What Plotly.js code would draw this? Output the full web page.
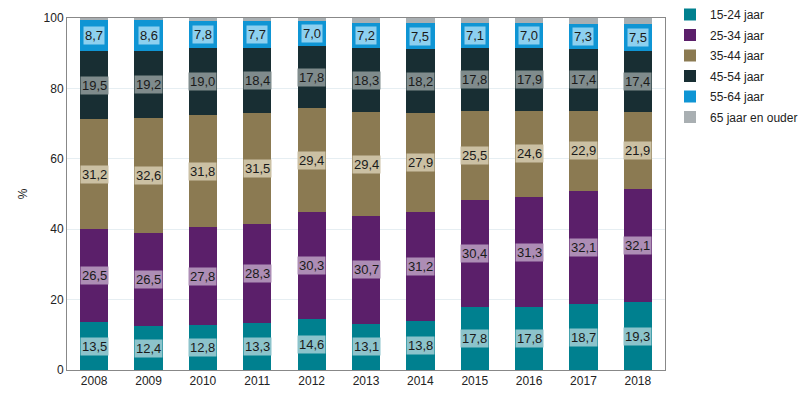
<!DOCTYPE html>
<html><head><meta charset="utf-8">
<script src="https://cdn.plot.ly/plotly-3.0.1.min.js"></script>
<style>body{margin:0;background:#fff}#c{width:800px;height:400px}</style>
</head><body><div id="c"></div>
<script>
const years = ['2008','2009','2010','2011','2012','2013','2014','2015','2016','2017','2018'];
const seriesNames = ['15-24 jaar','25-34 jaar','35-44 jaar','45-54 jaar','55-64 jaar','65 jaar en ouder'];
const s1524 = [13.5,12.4,12.8,13.3,14.6,13.1,13.8,17.8,17.8,18.7,19.3];
const s2534 = [26.5,26.5,27.8,28.3,30.3,30.7,31.2,30.4,31.3,32.1,32.1];
const s3544 = [31.2,32.6,31.8,31.5,29.4,29.4,27.9,25.5,24.6,22.9,21.9];
const s4554 = [19.5,19.2,19.0,18.4,17.8,18.3,18.2,17.8,17.9,17.4,17.4];
const s5564 = [8.7,8.6,7.8,7.7,7.0,7.2,7.5,7.1,7.0,7.3,7.5];
const s65 = [0.6,0.7,0.8,0.8,0.9,1.3,1.4,1.4,1.4,1.6,1.8];

const series = [s1524,s2534,s3544,s4554,s5564,s65];
const colors = ['#00808f','#5b1f6a','#8b7a52','#182e33','#0f95d4','#a9afb2'];
const labelBg = ['#8cc3cb','#ad8db5','#cbc0a3','#7f8b8c','#8dd0ef',null];

const traces = series.map((s,i)=>({
  type:'bar', x:years, y:s, name:seriesNames[i], legendgroup:'g'+i,
  marker:{color:colors[i], line:{width:0}},
  hoverinfo:'none'
}));

const annotations = [];
const cum = years.map(()=>0);
series.forEach((s,i)=>{
  s.forEach((v,j)=>{
    const mid = cum[j] + v/2;
    cum[j] += v;
    if(labelBg[i]){
      annotations.push({
        x:j, y:mid, xref:'x', yref:'y', showarrow:false,
        text:v.toFixed(1).replace('.',','),
        font:{family:'Liberation Sans, Arial, sans-serif', size:13, color:'#1a1a1a'},
        bgcolor:labelBg[i], borderpad:1
      });
    }
  });
});

const layout = {
  width:800, height:400,
  margin:{l:67, r:135, t:18, b:30},
  barmode:'stack', bargap:0.48,
  paper_bgcolor:'#fff', plot_bgcolor:'#fff',
  font:{family:'Liberation Sans, Arial, sans-serif', size:12, color:'#222'},
  xaxis:{type:'category', range:[-0.5,10.5], showline:true, linecolor:'#888', linewidth:1, mirror:true,
    ticks:'', tickfont:{size:12, color:'#222'}},
  yaxis:{range:[0,100], dtick:20, showline:true, linecolor:'#888', linewidth:1, mirror:true,
    gridcolor:'#e6eef2', zeroline:false, ticks:'', tickfont:{size:12,color:'#222'},
    title:{text:'%', font:{size:12,color:'#222'}, standoff:13}},
  legend:{xref:'container', yref:'container', x:0.8375, y:1.0, xanchor:'left', yanchor:'top', traceorder:'grouped',
    font:{size:12,color:'#222'}, tracegroupgap:1.5, itemwidth:30},
  annotations:annotations,
  showlegend:true
};
Plotly.newPlot('c', traces, layout, {displayModeBar:false, staticPlot:true});
</script></body></html>
